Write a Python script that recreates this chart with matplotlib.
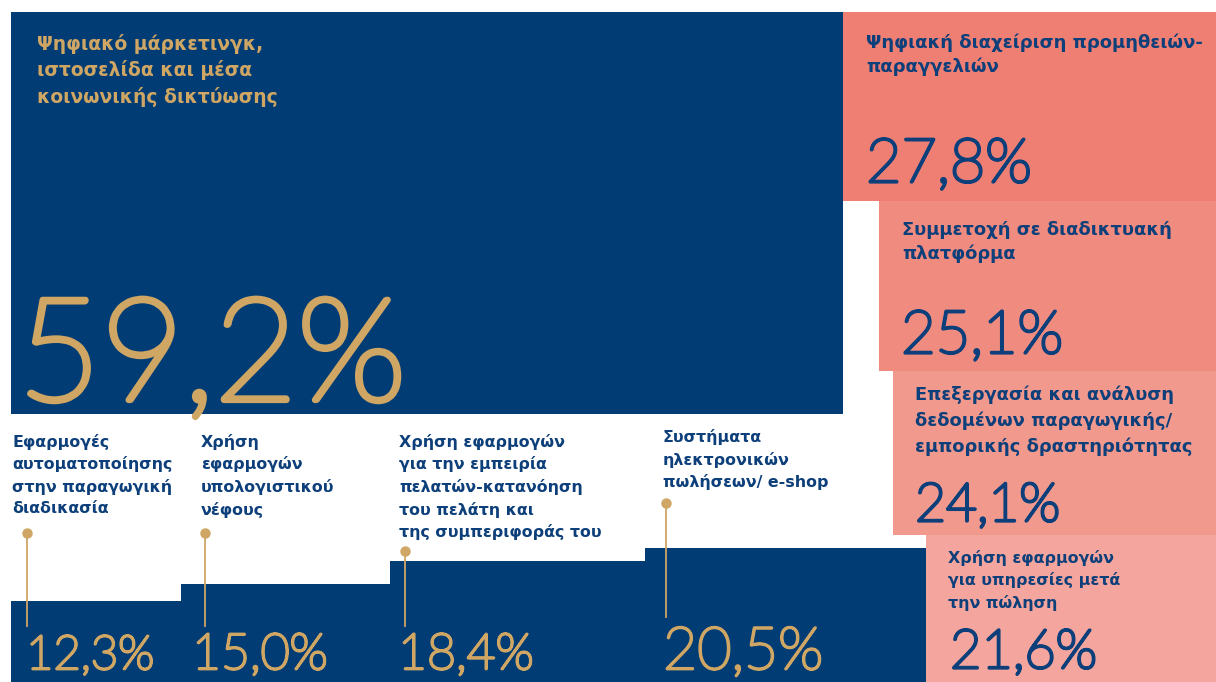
import numpy as np
import matplotlib.pyplot as plt
import matplotlib.patheffects as pe

# ----------------------
# Data
# ----------------------
main_label = "Ψηφιακό μάρκετινγκ,\nιστοσελίδα και μέσα\nκοινωνικής δικτύωσης"
main_value = 59.2

bottom_labels = [
    "Εφαρμογές\nαυτοματοποίησης\nστην παραγωγική\nδιαδικασία",
    "Χρήση\nεφαρμογών\nυπολογιστικού\nνέφους",
    "Χρήση εφαρμογών\nγια την εμπειρία\nπελατών-κατανόηση\nτου πελάτη και\nτης συμπεριφοράς του",
    "Συστήματα\nηλεκτρονικών\nπωλήσεων/ e-shop",
]
bottom_values = [12.3, 15.0, 18.4, 20.5]

right_labels = [
    "Ψηφιακή διαχείριση προμηθειών-\nπαραγγελιών",
    "Συμμετοχή σε διαδικτυακή\nπλατφόρμα",
    "Επεξεργασία και ανάλυση\nδεδομένων παραγωγικής/\nεμπορικής δραστηριότητας",
    "Χρήση εφαρμογών\nγια υπηρεσίες μετά\nτην πώληση",
]
right_values = [27.8, 25.1, 24.1, 21.6]


def pct(v):
    return f"{v:.1f}".replace(".", ",") + "%"


# ----------------------
# Layout / style
# ----------------------
W, H = 1216, 682
NAVY = "#013d74"
GOLD = "#cfa664"
INK = "#0d3f7a"
SALMON = ["#ef7f73", "#f08b80", "#f2998e", "#f4a59d"]

LABEL_FONT = ["DejaVu Sans"]
NUM_FONT = ["Lato", "DejaVu Sans"]

bottom_edges = [11, 181, 390, 645, 930]
bottom_scale = 6.55      # px per % (height of the bottom steps)
right_scale_w = 13.42    # px per % (width of the salmon tiles)
right_scale_h = 6.8      # px per % (height of the salmon tiles / big tile)


def num_text(x, y, s, size, color, stroke):
    # thin digits: hairline face thickened with a stroke of the same colour
    ax.text(x, y, s, color=color, fontsize=size, fontweight="light",
            family=NUM_FONT, va="baseline", ha="left", zorder=5,
            path_effects=[pe.withStroke(linewidth=stroke, foreground=color)])


fig = plt.figure(figsize=(W / 100, H / 100), dpi=100)
ax = fig.add_axes([0, 0, 1, 1])
ax.set_xlim(0, W)
ax.set_ylim(0, H)
ax.axis("off")

# ----------------------
# Right salmon tiles (stacked, anchored to the right edge)
# ----------------------
r_vals = np.array(right_values)
r_w = r_vals * right_scale_w
r_h = r_vals * right_scale_h
r_top = r_h.sum()
r_bottom = r_top - np.cumsum(r_h)
r_left = W - r_w

# ----------------------
# Big tile
# ----------------------
big_h = main_value * right_scale_h
big_left = bottom_edges[0]
ax.bar(big_left, big_h, width=r_left[0] - big_left, bottom=r_top - big_h,
       align="edge", color=NAVY, zorder=1)

# ----------------------
# Bottom steps
# ----------------------
b_left = np.array(bottom_edges[:-1])
b_width = np.diff(bottom_edges)
ax.bar(b_left, np.array(bottom_values) * bottom_scale, width=b_width,
       align="edge", color=NAVY, zorder=1)

ax.barh(r_bottom, r_w, height=r_h, left=r_left, align="edge",
        color=SALMON, zorder=2)

# ----------------------
# Texts - big tile
# ----------------------
ax.text(37, H - 34, main_label, color=GOLD, fontsize=13.5, fontweight="bold",
        family=LABEL_FONT, va="top", ha="left", linespacing=1.4, zorder=5)
num_text(18, H - 400, pct(main_value), 103, GOLD, 4.5)

# ----------------------
# Texts - bottom steps
# ----------------------
b_label_x = [12, 201, 399, 663]
b_label_top = [434, 434, 434, 429]
b_num_x = [26, 192, 398, 663]
b_num_size = [34, 36, 36, 42.5]
line_x = [27, 205, 405, 666]
dot_y = [533, 533, 551, 503]
line_end = [626, 626, 626, 617]

for i, v in enumerate(bottom_values):
    ax.text(b_label_x[i], H - b_label_top[i], bottom_labels[i], color=INK,
            fontsize=11.4, fontweight="bold", family=LABEL_FONT,
            va="top", ha="left", linespacing=1.5, zorder=5)
    ax.plot([line_x[i], line_x[i]], [H - dot_y[i], H - line_end[i]],
            color=GOLD, lw=1.3, zorder=4)
    ax.plot(line_x[i], H - dot_y[i], "o", color=GOLD, ms=6.5, zorder=4)
    num_text(b_num_x[i], H - 669, pct(v), b_num_size[i], GOLD, 2.0)

# ----------------------
# Texts - salmon tiles
# ----------------------
r_label_x = [866, 902, 915, 948]
r_label_top = [33, 221, 385, 550]
r_label_size = [13, 12.9, 12.9, 11.4]
r_label_gap = [1.4, 1.4, 1.55, 1.5]
r_num_x = [866, 901, 915, 950]
r_num_base = [182, 353, 521, 668]
r_num_size = [44, 43, 38.5, 39]

for i, v in enumerate(right_values):
    ax.text(r_label_x[i], H - r_label_top[i], right_labels[i], color=INK,
            fontsize=r_label_size[i], fontweight="bold", family=LABEL_FONT,
            va="top", ha="left", linespacing=r_label_gap[i], zorder=5)
    num_text(r_num_x[i], H - r_num_base[i], pct(v), r_num_size[i], INK, 2.3)

fig.savefig("out.png", dpi=100, facecolor="white")
